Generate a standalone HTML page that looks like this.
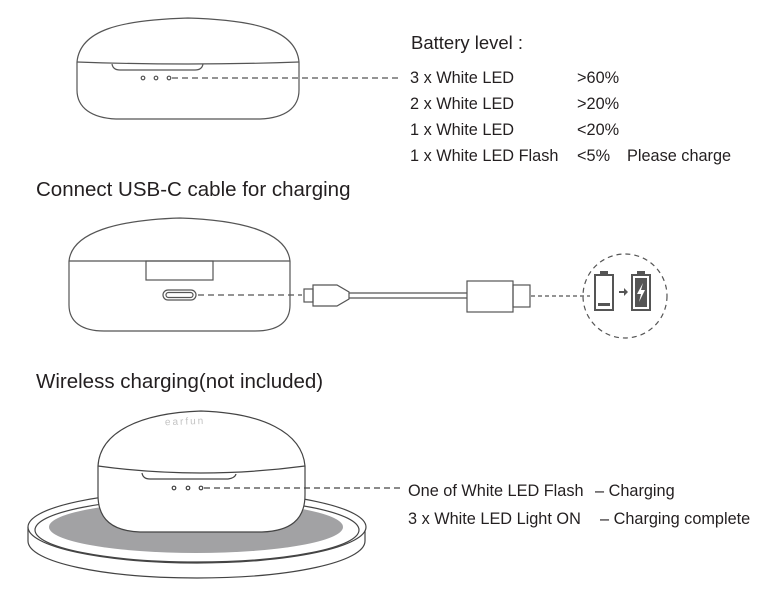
<!DOCTYPE html>
<html><head><meta charset="utf-8"><style>
body{margin:0;background:#fff;}
svg{display:block}
text{font-family:"Liberation Sans",sans-serif;fill:#231f20}
</style></head><body>
<svg width="783" height="608" viewBox="0 0 783 608" xmlns="http://www.w3.org/2000/svg">
<g fill="none" stroke="#555" stroke-width="1.2">
<path d="M77 62 C80 30 120 20 188 18 C256 20 296 30 299 62 L299 90 C299 108 285 118 260 119 L116 119 C92 118 77 108 77 90 Z" fill="#fff"/>
<path d="M77 62 Q188 66 299 62"/>
<path d="M112 64 Q113 70 120 70 L195 70 Q202 70 203 64"/>
<circle cx="143" cy="78" r="1.8"/><circle cx="156" cy="78" r="1.8"/><circle cx="169" cy="78" r="1.8"/>
<line x1="172" y1="78" x2="402" y2="78" stroke-dasharray="6,4"/>

<path d="M69 261 C72 232 118 220 180 218 C242 220 287 232 290 261 L290 305 C290 322 278 331 255 331 L104 331 C82 331 69 322 69 305 Z" fill="#fff"/>
<line x1="69" y1="261" x2="290" y2="261"/>
<rect x="146" y="261" width="67" height="19"/>
<rect x="163" y="290" width="33" height="10" rx="5"/>
<rect x="166" y="292.5" width="27" height="5" rx="2.5"/>
<line x1="198" y1="295" x2="302" y2="295" stroke-dasharray="6,4"/>
<rect x="304" y="289" width="9" height="13"/>
<path d="M313 285 L337 285 L349 292 L349 299 L337 306 L313 306 Z"/>
<line x1="349" y1="293" x2="467" y2="293"/><line x1="349" y1="298" x2="467" y2="298"/>
<rect x="467" y="281" width="46" height="31"/>
<rect x="513" y="285" width="17" height="22"/>
<line x1="531" y1="296" x2="590" y2="296" stroke-dasharray="4,3"/>
<circle cx="625" cy="296" r="42" stroke-dasharray="5,4"/>
</g>
<rect x="600" y="271" width="8" height="4" fill="#555"/>
<rect x="595" y="275" width="18" height="35" fill="#fff" stroke="#555" stroke-width="2"/>
<rect x="598" y="303" width="12" height="3" fill="#555"/>
<path d="M619 292 L625 292" stroke="#555" stroke-width="2"/><path d="M624 288 L628 292 L624 296 Z" fill="#555"/>
<rect x="637" y="271" width="8" height="4" fill="#555"/>
<rect x="632" y="275" width="18" height="35" fill="#fff" stroke="#555" stroke-width="2"/>
<rect x="635" y="278" width="12" height="29" fill="#555"/>
<path d="M643 283 L637 294 L641 294 L639 302 L645 290 L641 290 Z" fill="#fff"/>

<g stroke="#444" stroke-width="1.2">
<path d="M28 527 L28 541 C28 562 103 578 197 578 C291 578 365 562 365 541 L365 527" fill="#fff"/>
<ellipse cx="197" cy="527" rx="169" ry="36" fill="#fff"/>
<ellipse cx="197" cy="530" rx="162" ry="32" fill="none"/>
<ellipse cx="196" cy="527" rx="147" ry="26" fill="#a2a2a4" stroke="none"/>
</g>
<g fill="none" stroke="#444" stroke-width="1.2">
<path d="M98 466 C100 432 140 413 201 411 C262 413 302 432 305 466 L305 495 C305 520 290 531 262 532 L140 532 C113 531 98 520 98 495 Z" fill="#fff"/>
<path d="M98 466 Q200 480 305 466"/>
<path d="M142 473 Q143 479 150 479 L228 479 Q235 478 236 474"/>
<circle cx="174" cy="488" r="1.8"/><circle cx="188" cy="488" r="1.8"/><circle cx="201" cy="488" r="1.8"/>
<line x1="204" y1="488" x2="400" y2="488" stroke-dasharray="6,4"/>
</g>
<text x="165" y="424" font-size="10" style="fill:#c4c4c4;letter-spacing:2px" transform="rotate(-2 200 424)">earfun</text>

<text x="411" y="49" font-size="18.5">Battery level :</text>
<g font-size="16.3">
<text x="410" y="83">3 x White LED</text><text x="577" y="83">&gt;60%</text>
<text x="410" y="109">2 x White LED</text><text x="577" y="109">&gt;20%</text>
<text x="410" y="135">1 x White LED</text><text x="577" y="135">&lt;20%</text>
<text x="410" y="161">1 x White LED Flash</text><text x="577" y="161">&lt;5%</text><text x="627" y="161">Please charge</text>
</g>
<text x="36" y="196" font-size="20.5">Connect USB-C cable for charging</text>
<text x="36" y="388" font-size="20.5">Wireless charging(not included)</text>
<g font-size="16.3">
<text x="408" y="496">One of White LED Flash</text><text x="595" y="496">– Charging</text>
<text x="408" y="524">3 x White LED Light ON</text><text x="600" y="524">– Charging complete</text>
</g>
</svg>
</body></html>
